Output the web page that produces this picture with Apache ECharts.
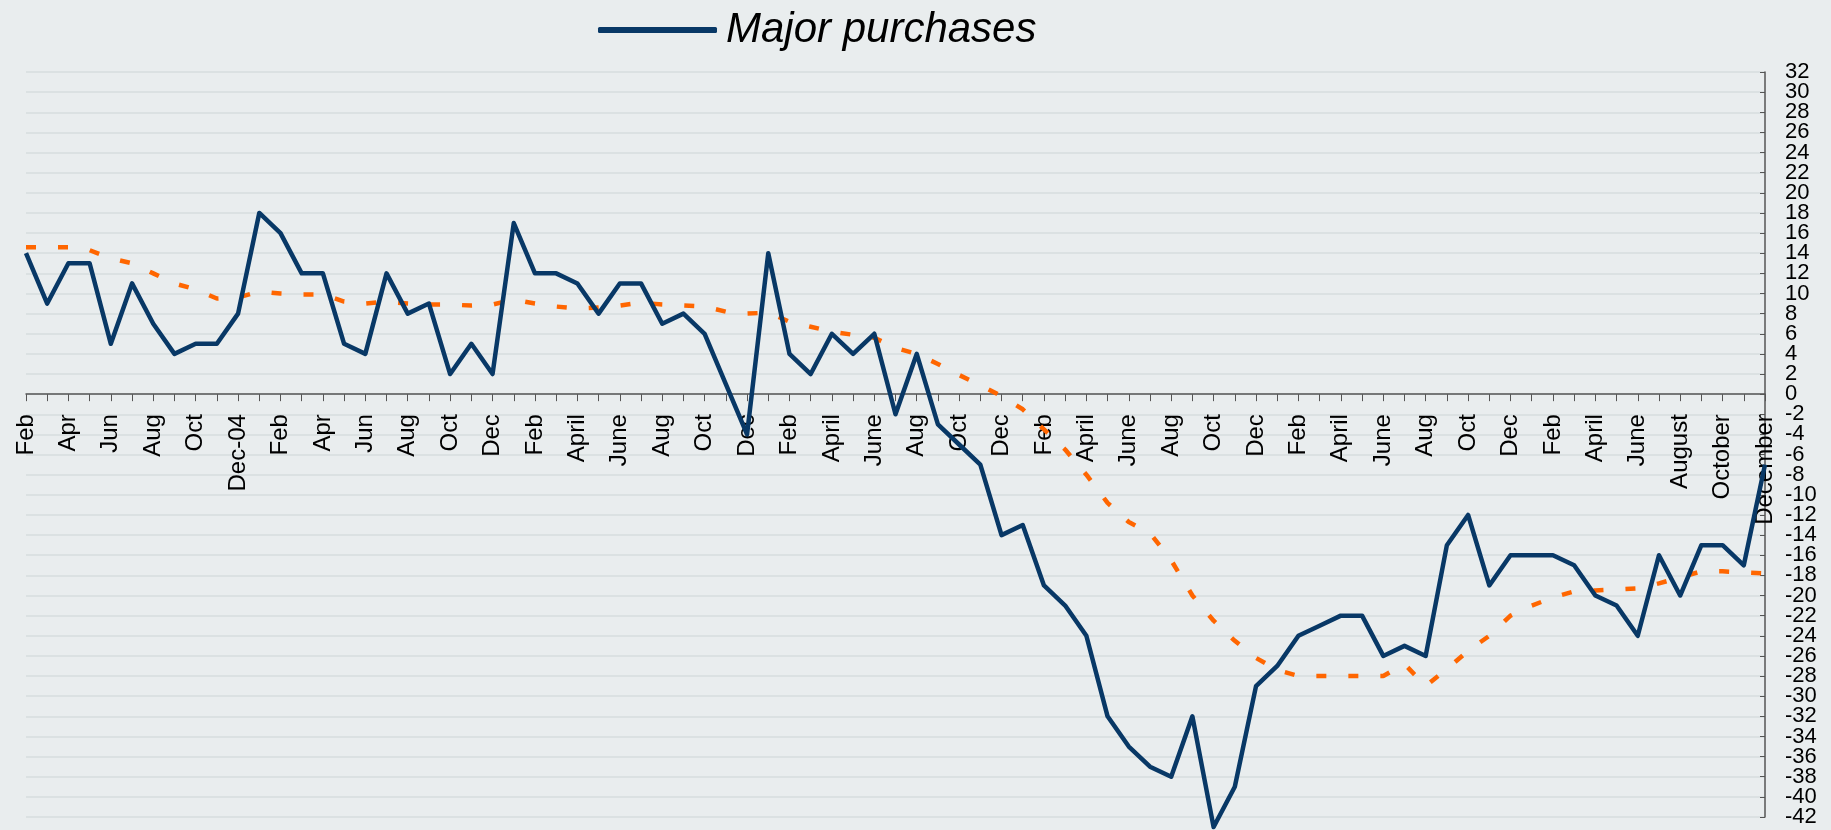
<!DOCTYPE html>
<html><head><meta charset="utf-8">
<script src="https://cdn.jsdelivr.net/npm/echarts@6/dist/echarts.min.js"></script>
<style>html,body{margin:0;padding:0;background:#e9edee;}#c{width:1831px;height:830px;}</style>
</head><body><div id="c"></div>
<script>
const categories = ["Feb","Mar","Apr","May","Jun","Jul","Aug","Sep","Oct","Nov","Dec-04",
"Jan","Feb","Mar","Apr","May","Jun","Jul","Aug","Sep","Oct","Nov","Dec",
"Jan","Feb","Mar","April","May","June","July","Aug","Sep","Oct","Nov","Dec",
"Jan","Feb","Mar","April","May","June","July","Aug","Sep","Oct","Nov","Dec",
"Jan","Feb","Mar","April","May","June","July","Aug","Sep","Oct","Nov","Dec",
"Jan","Feb","Mar","April","May","June","July","Aug","Sep","Oct","Nov","Dec",
"Jan","Feb","Mar","April","May","June","July","August","September","October","November","December"];

const majorPurchases = [14,9,13,13,5,11,7,4,5,5,8,
18,16,12,12,5,4,12,8,9,2,5,2,
17,12,12,11,8,11,11,7,8,6,1,-4,
14,4,2,6,4,6,-2,4,-3,-5,-7,-14,
-13,-19,-21,-24,-32,-35,-37,-38,-32,-43,-39,-29,
-27,-24,-23,-22,-22,-26,-25,-26,-15,-12,-19,-16,
-16,-16,-17,-20,-21,-24,-16,-20,-15,-15,-17,-7];

const trendLine = [14.6,14.6,14.6,14.3,13.5,13.0,12.0,11.0,10.4,9.5,9.6,
10.2,10.0,9.9,9.9,9.2,9.0,9.2,9.0,8.9,8.9,8.8,8.9,
9.4,9.0,8.7,8.5,8.6,8.8,9.1,8.9,8.8,8.7,8.2,8.0,
8.1,7.2,6.7,6.2,5.9,5.6,4.6,4.0,3.0,1.9,0.9,-0.2,
-1.5,-3.5,-5.5,-8.0,-10.8,-12.7,-13.8,-16.5,-20.0,-22.5,-24.5,-26.2,
-27.4,-28,-28,-28,-28,-28,-26.8,-29,-27.3,-25.5,-24,-22,
-21,-20.2,-19.6,-19.5,-19.4,-19.3,-18.8,-18.2,-17.6,-17.6,-17.7,-17.8];

const yMin = -42, yMax = 32, yStep = 2;
const seriesName = "Major purchases";

const W = 1831, H = 830;
const gTop = 72, gBottom = 13, gLeft = 26, gRight = 66;
const gHeight = H - gTop - gBottom;
const zeroOffset = gHeight * (0 - yMin) / (yMax - yMin);
const isEnd = v => v === yMin || v === yMax;
const labelFont = {margin: 20, fontSize: 22, color: '#000', fontFamily: 'Liberation Sans, Arial, sans-serif', hideOverlap: false};

const chart = echarts.init(document.getElementById('c'), null, {renderer:'canvas'});
chart.setOption({
  backgroundColor: '#e9edee',
  animation: false,
  grid: {left: gLeft, right: gRight, top: gTop, bottom: gBottom, containLabel: false, outerBoundsMode: 'none'},
  legend: {
    data: [seriesName],
    left: 593, top: 4,
    icon: 'roundRect',
    itemWidth: 119, itemHeight: 6, itemGap: 10,
    textStyle: {fontFamily: 'Liberation Sans, Arial, sans-serif', fontStyle: 'italic', fontSize: 42, color: '#000', padding: [0,0,0,4]}
  },
  xAxis: {
    type: 'category', data: categories, boundaryGap: false,
    offset: -zeroOffset,
    axisLine: {onZero: false, lineStyle: {color: '#555', width: 1.5}},
    axisTick: {show: true, interval: 0, length: 7, lineStyle: {color: '#555'}},
    axisLabel: {interval: 1, rotate: 90, margin: 20, fontSize: 24, color: '#000', fontFamily: 'Liberation Sans, Arial, sans-serif', hideOverlap: false},
    splitLine: {show: false}
  },
  yAxis: [{
    type: 'value', position: 'right', min: yMin, max: yMax, interval: yStep,
    axisLine: {show: true, onZero: false, lineStyle: {color: '#555', width: 1.5}},
    axisTick: {show: false},
    axisLabel: Object.assign({}, labelFont, {showMinLabel: false, showMaxLabel: false,
      formatter: v => isEnd(v) ? '' : String(v)}),
    splitLine: {show: true, lineStyle: {color: '#d6dcde', width: 1.5}}
  }, {
    type: 'value', position: 'right', min: yMin, max: yMax, interval: yStep,
    axisLine: {show: false, onZero: false},
    axisTick: {show: true, inside: true, length: 5, lineStyle: {color: '#555'}},
    axisLabel: Object.assign({}, labelFont, {showMinLabel: true, showMaxLabel: true,
      formatter: v => isEnd(v) ? String(v) : ''}),
    splitLine: {show: false}
  }],
  series: [
    {name: 'trend', type: 'line', data: trendLine, symbol: 'none', clip: false, z: 2, yAxisIndex: 0,
     lineStyle: {color: '#ff6600', width: 4.5, type: [10, 22]}},
    {name: seriesName, type: 'line', data: majorPurchases, symbol: 'none', clip: false, z: 3, yAxisIndex: 0,
     itemStyle: {color: '#083866'},
     lineStyle: {color: '#083866', width: 4.5, join: 'round'}}
  ]
});
</script></body></html>
